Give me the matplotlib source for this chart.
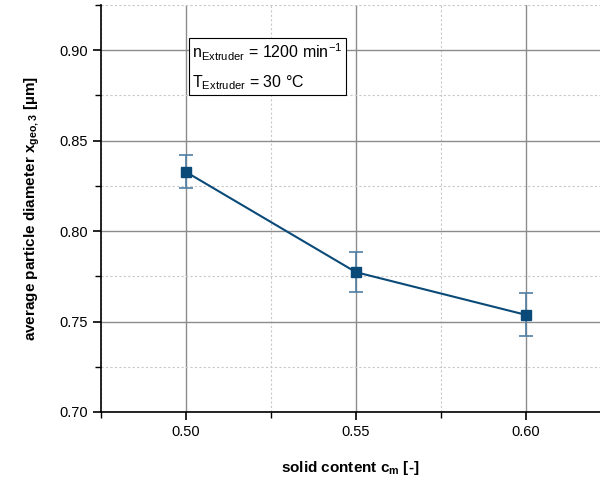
import matplotlib
matplotlib.use('agg')
from matplotlib import pyplot as plt
from matplotlib.ticker import MultipleLocator

plt.rcParams['font.family'] = ['Liberation Sans', 'DejaVu Sans']

solid_content = [0.50, 0.55, 0.60]
diameter = [0.8327, 0.7773, 0.7537]
diameter_err = [0.0091, 0.0111, 0.0119]

line_color = '#0a4a78'

fig = plt.figure(figsize=(6, 4.86), dpi=100)
ax = fig.add_axes([0.1683, 0.1523, 0.8317, 0.8374])

ax.errorbar(solid_content, diameter, yerr=diameter_err, color=line_color,
            ecolor='#4f7fa3', elinewidth=1.2, capsize=5, capthick=1.2,
            marker='s', markersize=7, linewidth=1.5, zorder=3)

ax.set_xlim(0.475, 0.6218)
ax.set_ylim(0.70, 0.925)
ax.xaxis.set_major_locator(MultipleLocator(0.05))
ax.xaxis.set_minor_locator(MultipleLocator(0.025))
ax.yaxis.set_major_locator(MultipleLocator(0.05))
ax.yaxis.set_minor_locator(MultipleLocator(0.025))
ax.xaxis.set_major_formatter(matplotlib.ticker.FormatStrFormatter('%.2f'))
ax.yaxis.set_major_formatter(matplotlib.ticker.FormatStrFormatter('%.2f'))

ax.grid(which='major', color='#8c8c8c', linewidth=1.0, linestyle='-', zorder=0)
ax.grid(which='minor', color='#c8c8c8', linewidth=0.8, linestyle=(0, (2, 2)), zorder=0)
ax.set_axisbelow(True)

for side in ('top', 'right'):
    ax.spines[side].set_visible(False)
for side in ('left', 'bottom'):
    ax.spines[side].set_linewidth(1.2)

ax.tick_params(which='major', direction='out', length=6, width=1.2, labelsize=10.5)
ax.tick_params(which='minor', direction='out', length=4, width=1.0)

ax.set_xlabel('solid content c$_\\mathregular{m}$ [-]', fontsize=11, fontweight='bold', labelpad=14)
ax.set_ylabel('average particle diameter x$_\\mathregular{geo,3}$ [µm]', fontsize=11,
              fontweight='bold', labelpad=12)

ax.text(0.5018, 0.9050,
        'n$_\\mathregular{Extruder}$ = 1200 min$^\\mathregular{-1}$\nT$_\\mathregular{Extruder}$ = 30 °C',
        fontsize=11.5, va='top', ha='left', linespacing=1.75,
        bbox=dict(boxstyle='square,pad=0.2', facecolor='white', edgecolor='black', linewidth=0.8))

plt.savefig('out.png', dpi=100)
